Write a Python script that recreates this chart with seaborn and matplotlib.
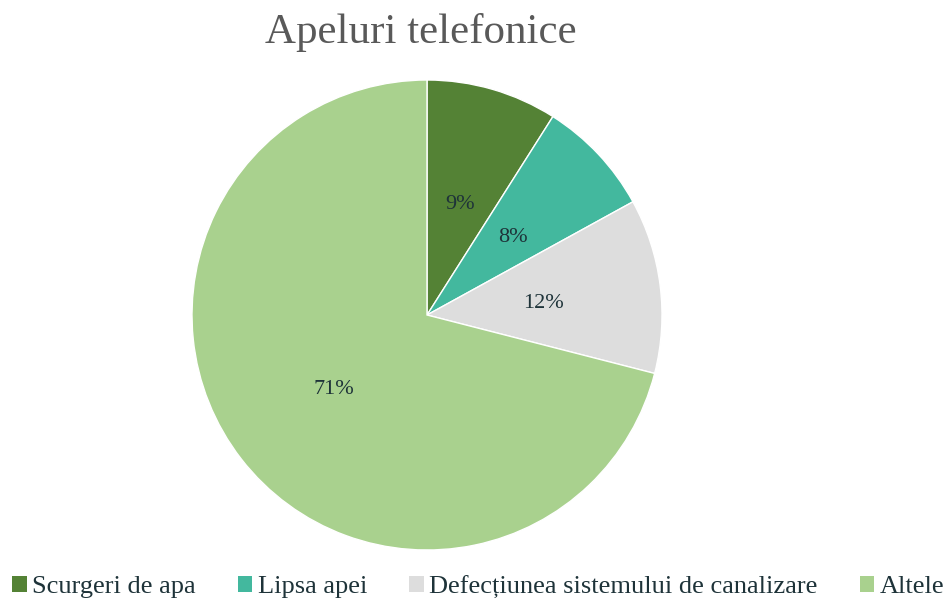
import matplotlib
matplotlib.use("Agg")
import matplotlib.pyplot as plt
import seaborn as sns
from matplotlib.patches import Patch

sns.set_theme(style="white")
plt.rcParams['font.family'] = ['Liberation Serif', 'DejaVu Serif']

categories = ["Scurgeri de apa", "Lipsa apei",
              "Defecțiunea sistemului de canalizare", "Altele"]
values = [9, 8, 12, 71]
colors = ["#548235", "#43B89E", "#DDDDDD", "#A9D18E"]
text_color = "#1E3339"

fig = plt.figure(figsize=(9.48, 5.99), dpi=100)
ax = fig.add_axes([192 / 948, 49 / 599, 470 / 948, 470 / 599])

wedges, texts, autotexts = ax.pie(
    values, colors=colors, startangle=90, counterclock=False,
    autopct=lambda p: f"{p:.0f}%", pctdistance=0.5,
    wedgeprops=dict(edgecolor="white", linewidth=1),
    textprops=dict(color=text_color, fontsize=16),
)
# nudge percentage labels slightly below their anchor points
for t in autotexts:
    x, y = t.get_position()
    t.set_position((x, y - 0.012))
ax.set_xlim(-1, 1)
ax.set_ylim(-1, 1)
ax.set_aspect("equal")

fig.text(421 / 948, 1 - 33 / 599, "Apeluri telefonice", ha="center",
         va="center", fontsize=31, color="#595959")

handles = [Patch(facecolor=c, edgecolor="none") for c in colors]
fig.legend(handles, categories, loc="center", bbox_to_anchor=(478 / 948, 1 - 587 / 599),
           ncol=4, frameon=False, fontsize=19, labelcolor=text_color,
           handlelength=0.55, handleheight=0.55, handletextpad=0.2,
           columnspacing=1.6)

fig.savefig("out.png", dpi=100)
